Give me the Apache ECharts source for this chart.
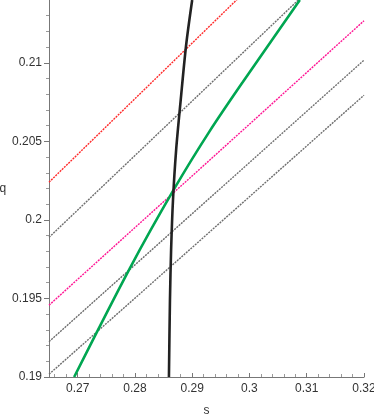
<!DOCTYPE html>
<html>
  <head>
    <meta charset="UTF-8">
    <script src="https://cdn.jsdelivr.net/npm/echarts@6/dist/echarts.min.js"></script>
    <title>s-q plot</title>
  </head>
  <body style="margin:0">
    <div id="main" style="width: 374px;height:415px;"></div>
    <script type="text/javascript">
      // tick labels
      var sTicks = [0.27, 0.28, 0.29, 0.3, 0.31, 0.32];
      var qTicks = [0.19, 0.195, 0.2, 0.205, 0.21];
      var sMinor = [0.266, 0.268, 0.272, 0.274, 0.276, 0.278, 0.282, 0.284, 0.286, 0.288,
                    0.292, 0.294, 0.296, 0.298, 0.302, 0.304, 0.306, 0.308, 0.312, 0.314, 0.316, 0.318];
      var qMinor = [0.191, 0.192, 0.193, 0.194, 0.196, 0.197, 0.198, 0.199, 0.201, 0.202,
                    0.203, 0.204, 0.206, 0.207, 0.208, 0.209, 0.211, 0.212, 0.213];

      // dotted level lines [s, q]
      var redLine = [[0.265, 0.2024], [0.30, 0.2148]];
      var grayLine1 = [[0.265, 0.19889], [0.31, 0.21451]];
      var magentaLine = [[0.265, 0.19457], [0.32, 0.21268]];
      var grayLine2 = [[0.265, 0.19225], [0.32, 0.21017]];
      var grayLine3 = [[0.265, 0.19017], [0.32, 0.20794]];

      // thick curves
      var greenCurve = [[0.26939, 0.19], [0.27911, 0.19692], [0.28693, 0.20202],
                        [0.293, 0.20562], [0.2989, 0.20881], [0.3088, 0.214]];
      var blackCurve = [[0.28594, 0.19], [0.28612, 0.1949], [0.28632, 0.19809],
                        [0.28665, 0.20127], [0.2872, 0.20446], [0.288, 0.20764],
                        [0.28895, 0.21115], [0.29, 0.214]];

      var myChart = echarts.init(document.getElementById('main'));

      function fmt(v) { return String(+(+v).toFixed(4)); }

      function dotted(name, data, color) {
        return {
          name: name, type: 'line', data: data, showSymbol: false, clip: true,
          animation: false, silent: true,
          lineStyle: { color: color, width: 1.4, type: [2, 1] }
        };
      }

      var axisFont = { color: '#333', fontSize: 12, fontFamily: 'Liberation Sans, Arial, sans-serif' };

      var option = {
        animation: false,
        grid: { left: 49, right: 10, top: 0, bottom: 38, outerBoundsMode: 'none' },
        xAxis: [{
          type: 'value', min: 0.265, max: 0.32,
          name: 's', nameLocation: 'middle', nameGap: 28,
          nameTextStyle: axisFont,
          splitLine: { show: false },
          axisLine: { lineStyle: { color: '#777' } },
          axisTick: { customValues: sTicks, length: 4, inside: true, lineStyle: { color: '#777' } },
          axisLabel: Object.assign({ customValues: sTicks, formatter: fmt, margin: 6 }, axisFont)
        }, {
          type: 'value', min: 0.265, max: 0.32, position: 'bottom',
          splitLine: { show: false },
          axisLine: { show: false },
          axisTick: { customValues: sMinor, length: 3, inside: true, lineStyle: { color: '#999' } },
          axisLabel: { show: false }
        }],
        yAxis: [{
          type: 'value', min: 0.19, max: 0.214,
          name: 'q', nameLocation: 'middle', nameGap: 38, nameRotate: 0,
          nameTextStyle: axisFont,
          splitLine: { show: false },
          axisLine: { lineStyle: { color: '#777' } },
          axisTick: { customValues: qTicks, length: 5, lineStyle: { color: '#777' } },
          axisLabel: Object.assign({ customValues: qTicks, formatter: fmt, margin: 7 }, axisFont)
        }, {
          type: 'value', min: 0.19, max: 0.214, position: 'left',
          splitLine: { show: false },
          axisLine: { show: false },
          axisTick: { customValues: qMinor, length: 3, lineStyle: { color: '#999' } },
          axisLabel: { show: false }
        }],
        series: [
          dotted('red', redLine, '#ff2a2a'),
          dotted('gray1', grayLine1, '#6e6e6e'),
          dotted('magenta', magentaLine, '#ff1493'),
          dotted('gray2', grayLine2, '#6e6e6e'),
          dotted('gray3', grayLine3, '#6e6e6e'),
          {
            name: 'green', type: 'line', data: greenCurve, smooth: 0.3, showSymbol: false,
            clip: true, silent: true,
            lineStyle: { color: '#00a651', width: 2.6 }
          },
          {
            name: 'black', type: 'line', data: blackCurve, smooth: 0.3, showSymbol: false,
            clip: true, silent: true,
            lineStyle: { color: '#222', width: 2.6 }
          }
        ]
      };

      myChart.setOption(option);
    </script>
  </body>
</html>
